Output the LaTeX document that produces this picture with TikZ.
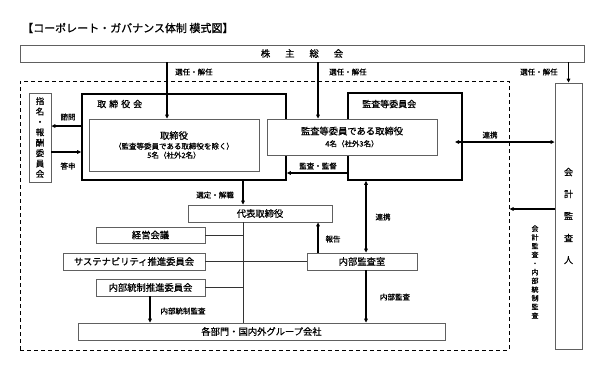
\documentclass[tikz,border=0pt]{standalone}
\usepackage{fontspec}
\setmainfont{Noto Sans CJK JP}[FakeBold=0.7]
\usetikzlibrary{arrows.meta}
\begin{document}
\begin{tikzpicture}[x=1pt,y=-1pt,
  box/.style={draw=gray!75!black, line width=0.8pt, fill=white, inner sep=0pt, align=center, font=\fontsize{9.3}{11}\selectfont},
  bigbox/.style={draw=black, line width=1.6pt, inner sep=0pt},
  grpbox/.style={draw=black, line width=1pt, dash pattern=on 4pt off 3pt, inner sep=0pt},
  arr/.style={line width=1.1pt, -{Triangle[length=4pt,width=3.6pt]}},
  darr/.style={line width=1.1pt, {Triangle[length=4pt,width=3.6pt]}-{Triangle[length=4pt,width=3.6pt]}},
  lbl/.style={font=\fontsize{7.5}{9}\selectfont, inner sep=0pt},
  link/.style={draw=gray!40!black, line width=0.8pt}]
\useasboundingbox (0,0) rectangle (592,365);
% title
\node[anchor=west, inner sep=0pt, font=\fontsize{11}{12}\selectfont] (title) at (22,28) {【コーポレート・ガバナンス体制 模式図】};
% group (dashed)
\node[grpbox, minimum width=489pt, minimum height=269pt] (grp) at (264.5,215.5) {};
% shareholders
\node[box, minimum width=564pt, minimum height=17pt] (sh) at (302,53.5) {株\hspace{15pt}主\hspace{15pt}総\hspace{15pt}会};
% accounting auditor
\node[box, minimum width=27pt, minimum height=266pt, font=\fontsize{9}{22}\selectfont] (aud) at (568.5,216) {会\\計\\監\\査\\人};
% nomination committee
\node[box, minimum width=22pt, minimum height=89pt, font=\fontsize{8.5}{10.4}\selectfont] (nom) at (40,137.5) {指\\名\\・\\報\\酬\\委\\員\\会};
% board
\node[bigbox, minimum width=204pt, minimum height=86pt] (bod) at (184,137) {};
\node[anchor=west, inner sep=0pt, font=\fontsize{9}{11}\selectfont] (bodl) at (97,104) {取\hspace{3pt}締\hspace{3pt}役\hspace{3pt}会};
\node[box, minimum width=170pt, minimum height=52pt] (dir) at (174,145) {取締役\\[-1pt]{\fontsize{7.5}{9}\selectfont （監査等委員である取締役を除く）}\\[-2pt]{\fontsize{7.5}{9}\selectfont 5名（社外2名）}};
% audit committee
\node[bigbox, minimum width=114pt, minimum height=87pt] (ac) at (405,136.5) {};
\node[anchor=west, inner sep=0pt, font=\fontsize{9}{11}\selectfont] (acl) at (362,104) {監査等委員会};
\node[box, minimum width=170pt, minimum height=36pt] (acd) at (352,137) {監査等委員である取締役\\[1pt]{\fontsize{7.5}{9}\selectfont 4名（社外3名）}};
% lower boxes
\node[box, minimum width=144pt, minimum height=17pt] (rep) at (260,213.5) {代表取締役};
\node[box, minimum width=109pt, minimum height=16pt] (mgmt) at (150.5,235) {経営会議};
\node[box, minimum width=142pt, minimum height=17pt] (sus) at (134,261.5) {サステナビリティ推進委員会};
\node[box, minimum width=109pt, minimum height=17pt] (icp) at (150.5,287.5) {内部統制推進委員会};
\node[box, minimum width=367pt, minimum height=17pt] (div) at (261.5,331.5) {各部門・国内外グループ会社};
\node[box, minimum width=110pt, minimum height=17pt] (ia) at (362,261.5) {内部監査室};
% helper coordinates
\coordinate (xa) at (167,0);
\coordinate (xb) at (318,0);
\coordinate (xd) at (243,0);
\coordinate (xe) at (366,0);
\coordinate (xf) at (150,0);
\coordinate (yq) at (0,126);
\coordinate (ya) at (0,152);
\coordinate (ym) at (0,173);
\coordinate (yk) at (0,209);
\coordinate (lk) at (455,142);
% connectors
\draw[arr] (sh.south -| xa) -- (dir.north -| xa);
\draw[arr] (sh.south -| xb) -- (acd.north -| xb);
\draw[arr] (sh.south -| aud.north) -- (aud.north);
\draw[arr] (bod.west |- yq) -- (nom.east |- yq);
\draw[arr] (nom.east |- ya) -- (bod.west |- ya);
\draw[darr] (lk) -- (aud.west |- lk);
\draw[arr] (ac.west |- ym) -- (bod.east |- ym);
\draw[arr] (bod.south -| xd) -- (rep.north -| xd);
\draw[link] (rep.south -| xd) -- (div.north -| xd);
\draw[link] (mgmt.east) -- (mgmt.east -| xd);
\draw[link] (sus.east) -- (ia.west);
\draw[link] (icp.east) -- (icp.east -| xd);
\draw[arr] (icp.south -| xf) -- (div.north -| xf);
\draw[arr] (ia.north -| xb) -- (rep.south -| xb);
\draw[darr] (ac.south -| xe) -- (ia.north -| xe);
\draw[arr] (ia.south -| xe) -- (div.north -| xe);
\draw[arr] (aud.west |- yk) -- (grp.east |- yk);
% labels
\node[lbl, anchor=west] (l1) at (175,72) {選任・解任};
\node[lbl, anchor=west] (l2) at (329,72) {選任・解任};
\node[lbl, anchor=west] (l3) at (520,72) {選任・解任};
\node[lbl] (l4) at (68,117) {諮問};
\node[lbl] (l5) at (68,166) {答申};
\node[lbl] (l6) at (490,135) {連携};
\node[lbl] (l7) at (318,166) {監査・監督};
\node[lbl] (l8) at (215,195) {選定・解職};
\node[lbl] (l9) at (333,239) {報告};
\node[lbl] (l10) at (383,217) {連携};
\node[lbl] (l11) at (395,297) {内部監査};
\node[lbl] (l12) at (183,311) {内部統制監査};
\node[lbl, align=center, font=\fontsize{7}{8.7}\selectfont] (l13) at (535,272) {会\\計\\監\\査\\・\\内\\部\\統\\制\\監\\査};
\end{tikzpicture}
\end{document}
